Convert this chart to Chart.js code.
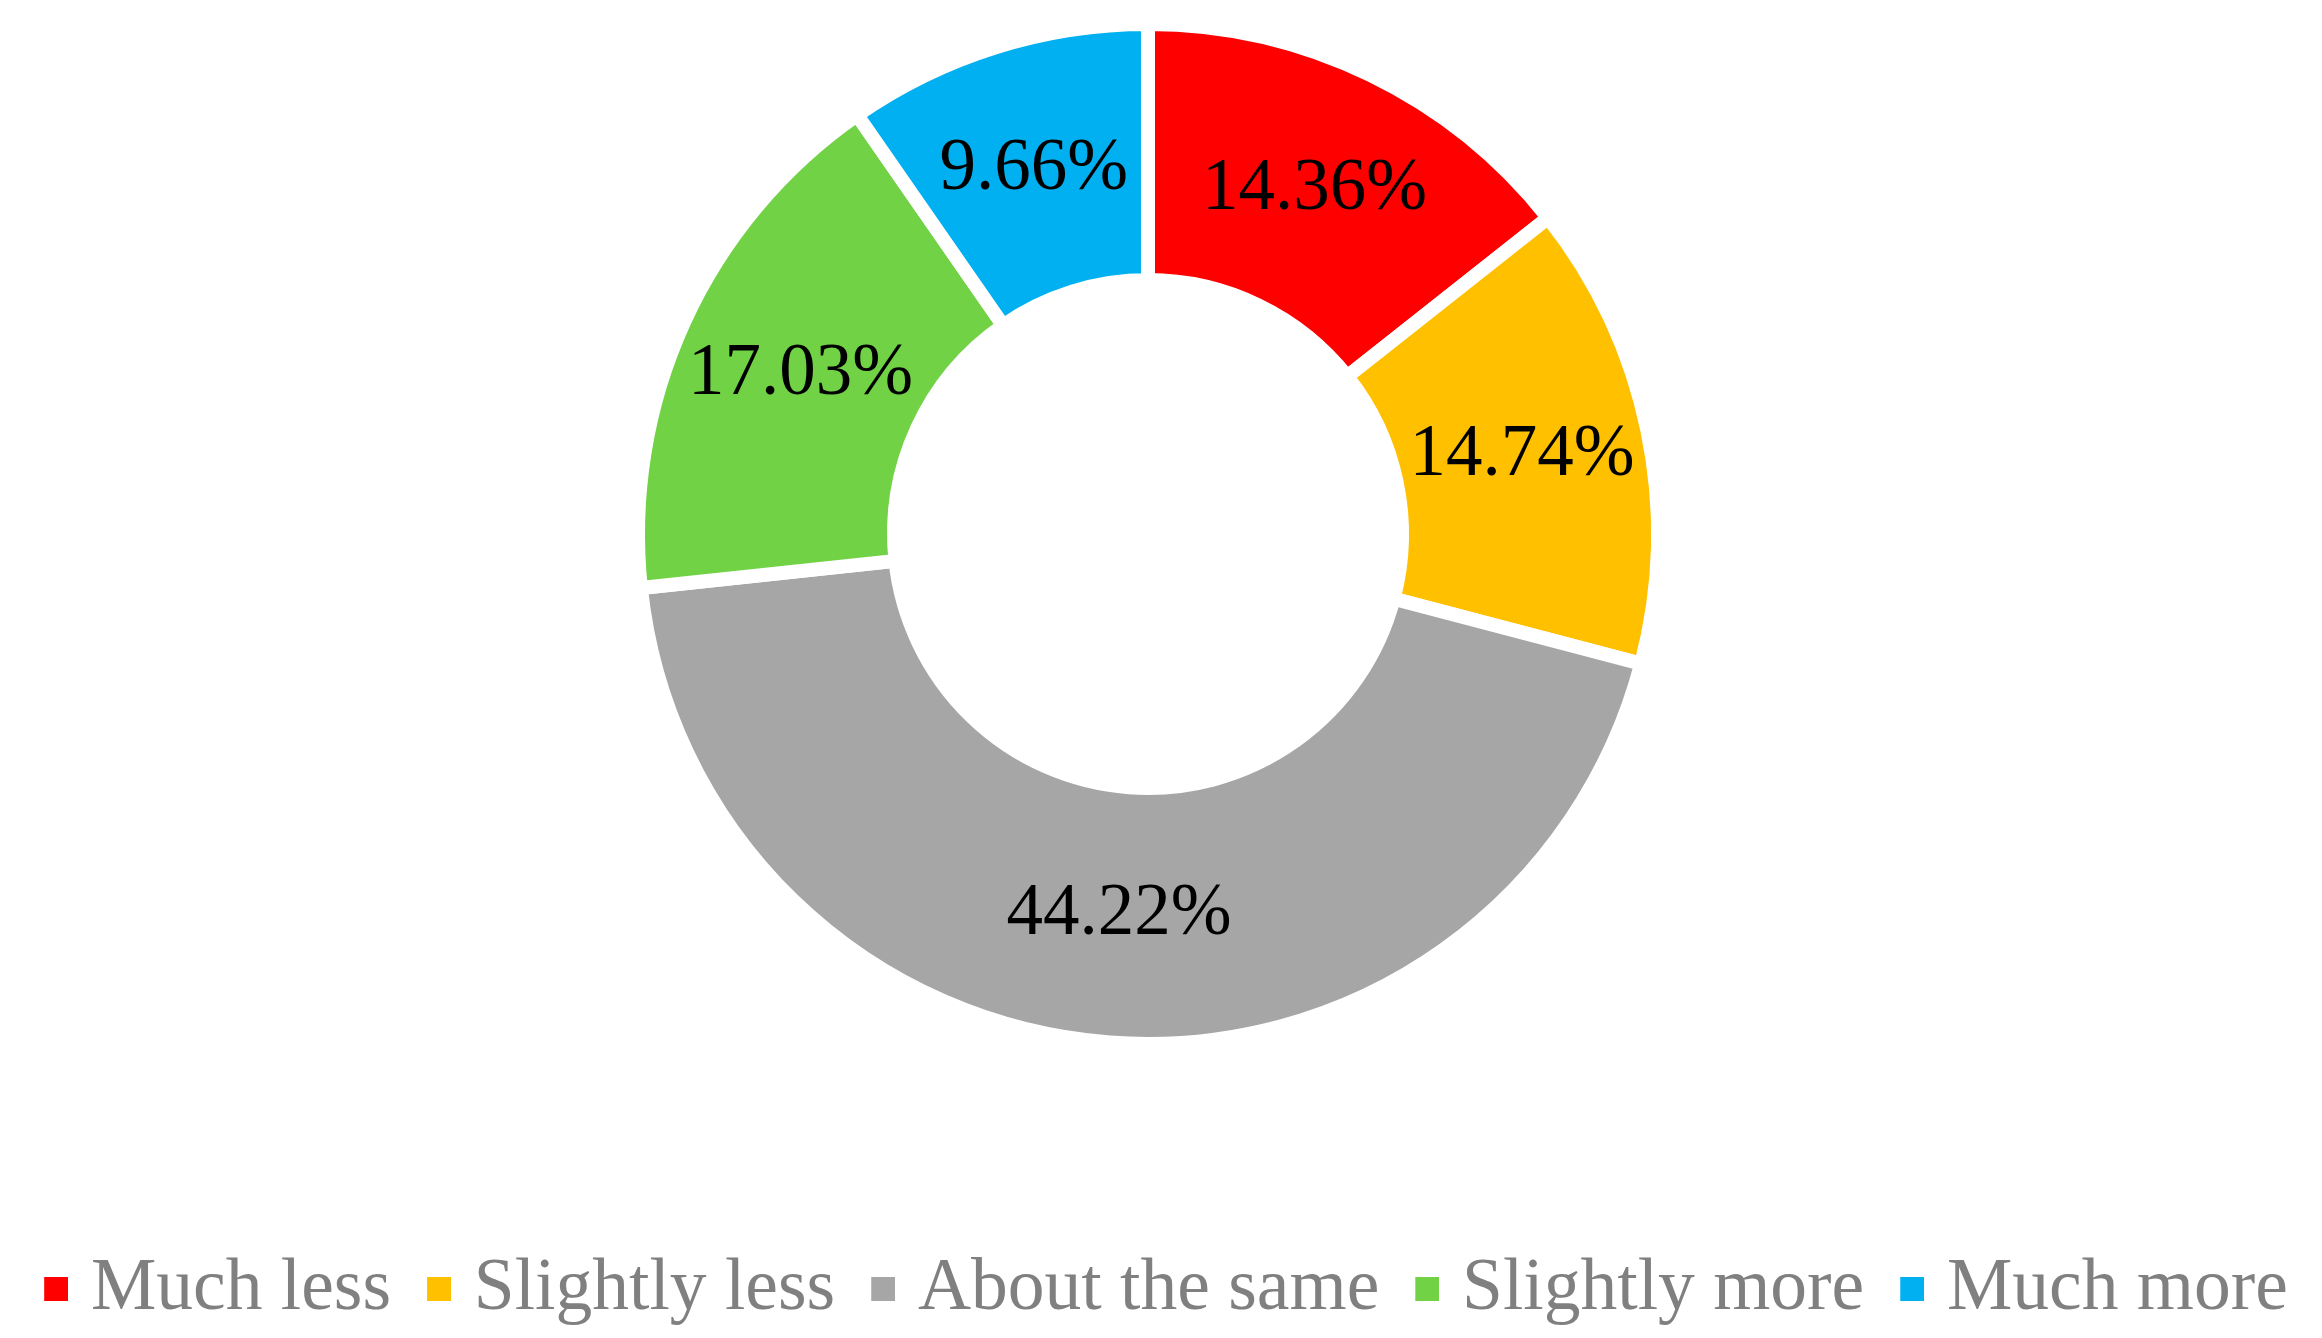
<!DOCTYPE html>
<html>
<head>
<meta charset="utf-8">
<script src="https://cdn.jsdelivr.net/npm/chart.js@4/dist/chart.umd.min.js"></script>
<style>
  body { margin: 0; background: #fff; }
  #grafico { display: block; }
</style>
</head>
<body>
<canvas id="grafico" width="2322" height="1338"></canvas>
<script>
const categorias = ["Much less", "Slightly less", "About the same", "Slightly more", "Much more"];
const valores = [14.36, 14.74, 44.22, 17.03, 9.66];
const rotulos = ["14.36%", "14.74%", "44.22%", "17.03%", "9.66%"];
const cores = ["#FF0000", "#FFC000", "#A6A6A6", "#70D244", "#00B0F0"];

// Quadrado da legenda: imagem com o quadrado encostado à direita,
// para ficar mais perto do texto (como no Excel)
function marcador(cor) {
  const c = document.createElement("canvas");
  c.width = 74;
  c.height = 24;
  const g = c.getContext("2d");
  g.fillStyle = cor;
  g.fillRect(50, 0, 24, 24);
  return c;
}

// Rótulos no meio de cada fatia
const pluginRotulos = {
  id: "rotulos",
  afterDatasetsDraw(chart) {
    const ctx = chart.ctx;
    const meta = chart.getDatasetMeta(0);
    ctx.save();
    ctx.font = "73px 'Liberation Serif'";
    ctx.fillStyle = "#000";
    ctx.textAlign = "center";
    ctx.textBaseline = "middle";
    meta.data.forEach((arco, i) => {
      const p = arco.getCenterPoint();
      ctx.fillText(rotulos[i], p.x, p.y);
    });
    ctx.restore();
  }
};

const ctx = document.getElementById("grafico").getContext("2d");
new Chart(ctx, {
  type: "doughnut",
  data: {
    labels: categorias,
    datasets: [{
      data: valores,
      backgroundColor: cores,
      borderColor: "#fff",
      borderWidth: 14,
      radius: 510,
      cutout: "49.8%"
    }]
  },
  options: {
    responsive: false,
    animation: false,
    devicePixelRatio: 1,
    layout: {
      padding: { top: 0, right: 26, bottom: 2, left: 0 }
    },
    plugins: {
      tooltip: { enabled: false },
      legend: {
        position: "bottom",
        title: {
          display: true,
          text: " ",
          font: { size: 10, lineHeight: 1 },
          padding: { top: 174.5, bottom: 0 }
        },
        labels: {
          usePointStyle: true,
          boxWidth: 46,
          boxHeight: 24,
          padding: 0,
          color: "#808080",
          font: { family: "'Liberation Serif'", size: 73.5 },
          generateLabels(chart) {
            const itens = Chart.overrides.doughnut.plugins.legend.labels.generateLabels(chart);
            itens.forEach((item, i) => {
              item.lineWidth = 0;
              item.pointStyle = marcador(cores[i]);
            });
            return itens;
          }
        }
      }
    }
  },
  plugins: [pluginRotulos]
});
</script>
</body>
</html>
